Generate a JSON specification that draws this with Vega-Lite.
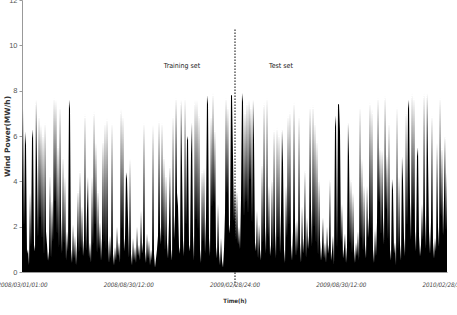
{
  "$schema": "https://vega.github.io/schema/vega-lite/v6.json",
  "autosize": {"type": "none"},
  "padding": {"left": 22, "top": 0, "right": 10, "bottom": 43},
  "width": 425,
  "height": 272,
  "background": "white",
  "config": {"view": {"stroke": null}, "font": "DejaVu Sans Condensed, Liberation Sans, sans-serif"},
  "datasets": {
    "power": [
{"t":0,"p":3.5},{"t":1,"p":7.2},{"t":2,"p":2.0},{"t":3,"p":6.2},{"t":4,"p":5.6},{"t":5,"p":0.8},{"t":6,"p":1.0},{"t":7,"p":0.3},{"t":8,"p":3.5},{"t":9,"p":1.1},
{"t":10,"p":5.9},{"t":11,"p":6.3},{"t":12,"p":1.2},{"t":13,"p":0.9},{"t":14,"p":7.6},{"t":15,"p":4.8},{"t":16,"p":1.5},{"t":17,"p":6.9},{"t":18,"p":2.3},{"t":19,"p":6.5},
{"t":20,"p":1.4},{"t":21,"p":6.1},{"t":22,"p":0.7},{"t":23,"p":6.6},{"t":24,"p":1.8},{"t":25,"p":1.2},{"t":26,"p":0.5},{"t":27,"p":0.9},{"t":28,"p":4.3},{"t":29,"p":0.6},
{"t":30,"p":3.2},{"t":31,"p":1.3},{"t":32,"p":7.7},{"t":33,"p":3.0},{"t":34,"p":7.6},{"t":35,"p":1.6},{"t":36,"p":5.6},{"t":37,"p":1.0},{"t":38,"p":7.3},{"t":39,"p":2.4},
{"t":40,"p":0.8},{"t":41,"p":5.1},{"t":42,"p":1.2},{"t":43,"p":4.2},{"t":44,"p":0.5},{"t":45,"p":1.8},{"t":46,"p":0.9},{"t":47,"p":7.6},{"t":48,"p":7.2},{"t":49,"p":1.0},
{"t":50,"p":0.4},{"t":51,"p":2.1},{"t":52,"p":0.6},{"t":53,"p":1.6},{"t":54,"p":0.3},{"t":55,"p":1.2},{"t":56,"p":3.6},{"t":57,"p":0.8},{"t":58,"p":4.5},{"t":59,"p":1.0},
{"t":60,"p":2.9},{"t":61,"p":0.7},{"t":62,"p":1.4},{"t":63,"p":7.0},{"t":64,"p":0.9},{"t":65,"p":2.7},{"t":66,"p":4.2},{"t":67,"p":0.6},{"t":68,"p":1.3},{"t":69,"p":0.4},
{"t":70,"p":4.2},{"t":71,"p":1.1},{"t":72,"p":7.1},{"t":73,"p":2.0},{"t":74,"p":5.7},{"t":75,"p":0.8},{"t":76,"p":3.6},{"t":77,"p":1.0},{"t":78,"p":2.2},{"t":79,"p":0.5},
{"t":80,"p":1.5},{"t":81,"p":5.8},{"t":82,"p":1.2},{"t":83,"p":6.6},{"t":84,"p":0.9},{"t":85,"p":6.8},{"t":86,"p":1.4},{"t":87,"p":0.4},{"t":88,"p":1.6},{"t":89,"p":0.6},
{"t":90,"p":6.6},{"t":91,"p":0.8},{"t":92,"p":0.3},{"t":93,"p":1.1},{"t":94,"p":0.5},{"t":95,"p":2.0},{"t":96,"p":0.7},{"t":97,"p":1.3},{"t":98,"p":0.4},{"t":99,"p":7.2},
{"t":100,"p":1.8},{"t":101,"p":6.9},{"t":102,"p":0.9},{"t":103,"p":1.5},{"t":104,"p":4.4},{"t":105,"p":4.1},{"t":106,"p":2.3},{"t":107,"p":0.6},{"t":108,"p":5.0},{"t":109,"p":0.8},
{"t":110,"p":0.3},{"t":111,"p":1.5},{"t":112,"p":0.5},{"t":113,"p":1.1},{"t":114,"p":0.4},{"t":115,"p":2.0},{"t":116,"p":0.7},{"t":117,"p":1.2},{"t":118,"p":0.5},{"t":119,"p":2.7},
{"t":120,"p":0.8},{"t":121,"p":1.3},{"t":122,"p":6.6},{"t":123,"p":0.9},{"t":124,"p":0.4},{"t":125,"p":1.7},{"t":126,"p":0.6},{"t":127,"p":1.4},{"t":128,"p":0.3},{"t":129,"p":1.0},
{"t":130,"p":0.5},{"t":131,"p":6.5},{"t":132,"p":0.8},{"t":133,"p":0.2},{"t":134,"p":0.6},{"t":135,"p":1.0},{"t":136,"p":1.6},{"t":137,"p":6.7},{"t":138,"p":2.0},{"t":139,"p":1.2},
{"t":140,"p":6.6},{"t":141,"p":1.5},{"t":142,"p":5.1},{"t":143,"p":0.9},{"t":144,"p":4.3},{"t":145,"p":1.3},{"t":146,"p":0.6},{"t":147,"p":2.2},{"t":148,"p":4.7},{"t":149,"p":1.0},
{"t":150,"p":0.5},{"t":151,"p":6.9},{"t":152,"p":1.4},{"t":153,"p":2.5},{"t":154,"p":7.7},{"t":155,"p":3.5},{"t":156,"p":2.9},{"t":157,"p":1.1},{"t":158,"p":0.8},{"t":159,"p":7.6},
{"t":160,"p":4.6},{"t":161,"p":1.4},{"t":162,"p":0.7},{"t":163,"p":7.7},{"t":164,"p":2.0},{"t":165,"p":5.8},{"t":166,"p":6.0},{"t":167,"p":1.2},{"t":168,"p":0.9},{"t":169,"p":5.2},
{"t":170,"p":6.6},{"t":171,"p":1.6},{"t":172,"p":0.5},{"t":173,"p":7.6},{"t":174,"p":2.2},{"t":175,"p":7.6},{"t":176,"p":1.8},{"t":177,"p":7.0},{"t":178,"p":1.0},{"t":179,"p":0.4},
{"t":180,"p":4.5},{"t":181,"p":1.3},{"t":182,"p":4.6},{"t":183,"p":0.8},{"t":184,"p":2.4},{"t":185,"p":7.8},{"t":186,"p":7.4},{"t":187,"p":1.5},{"t":188,"p":0.7},{"t":189,"p":6.9},
{"t":190,"p":2.8},{"t":191,"p":7.9},{"t":192,"p":3.0},{"t":193,"p":6.3},{"t":194,"p":1.1},{"t":195,"p":0.6},{"t":196,"p":3.0},{"t":197,"p":0.9},{"t":198,"p":0.3},{"t":199,"p":1.5},
{"t":200,"p":0.5},{"t":201,"p":0.2},{"t":202,"p":1.0},{"t":203,"p":2.6},{"t":204,"p":7.7},{"t":205,"p":3.4},{"t":206,"p":7.3},{"t":207,"p":1.7},{"t":208,"p":2.1},{"t":209,"p":7.8},
{"t":210,"p":7.8},{"t":211,"p":5.1},{"t":212,"p":2.2},{"t":213,"p":3.8},{"t":214,"p":1.4},{"t":215,"p":3.6},{"t":216,"p":1.2},{"t":217,"p":2.0},{"t":218,"p":1.0},{"t":219,"p":3.2},
{"t":220,"p":7.9},{"t":221,"p":7.5},{"t":222,"p":2.4},{"t":223,"p":7.1},{"t":224,"p":3.0},{"t":225,"p":7.5},{"t":226,"p":2.5},{"t":227,"p":7.6},{"t":228,"p":4.0},{"t":229,"p":7.3},
{"t":230,"p":2.1},{"t":231,"p":7.6},{"t":232,"p":5.8},{"t":233,"p":1.3},{"t":234,"p":0.9},{"t":235,"p":2.7},{"t":236,"p":0.6},{"t":237,"p":2.1},{"t":238,"p":1.0},{"t":239,"p":0.5},
{"t":240,"p":4.8},{"t":241,"p":1.2},{"t":242,"p":7.5},{"t":243,"p":2.0},{"t":244,"p":0.8},{"t":245,"p":7.7},{"t":246,"p":1.5},{"t":247,"p":3.8},{"t":248,"p":0.7},{"t":249,"p":1.2},
{"t":250,"p":4.1},{"t":251,"p":0.9},{"t":252,"p":6.3},{"t":253,"p":1.8},{"t":254,"p":0.6},{"t":255,"p":6.4},{"t":256,"p":1.4},{"t":257,"p":6.1},{"t":258,"p":0.8},{"t":259,"p":2.6},
{"t":260,"p":6.3},{"t":261,"p":4.8},{"t":262,"p":1.0},{"t":263,"p":0.4},{"t":264,"p":3.8},{"t":265,"p":1.5},{"t":266,"p":6.9},{"t":267,"p":2.0},{"t":268,"p":7.1},{"t":269,"p":1.2},
{"t":270,"p":0.5},{"t":271,"p":1.8},{"t":272,"p":7.5},{"t":273,"p":2.2},{"t":274,"p":0.7},{"t":275,"p":2.3},{"t":276,"p":0.9},{"t":277,"p":6.9},{"t":278,"p":1.3},{"t":279,"p":0.4},
{"t":280,"p":2.9},{"t":281,"p":0.8},{"t":282,"p":1.5},{"t":283,"p":4.5},{"t":284,"p":0.6},{"t":285,"p":2.4},{"t":286,"p":1.0},{"t":287,"p":1.6},{"t":288,"p":7.3},{"t":289,"p":2.8},
{"t":290,"p":1.1},{"t":291,"p":7.4},{"t":292,"p":1.9},{"t":293,"p":6.6},{"t":294,"p":1.2},{"t":295,"p":5.8},{"t":296,"p":0.7},{"t":297,"p":4.1},{"t":298,"p":1.4},{"t":299,"p":0.5},
{"t":300,"p":1.1},{"t":301,"p":2.4},{"t":302,"p":0.6},{"t":303,"p":1.3},{"t":304,"p":0.4},{"t":305,"p":2.0},{"t":306,"p":0.8},{"t":307,"p":1.2},{"t":308,"p":4.1},{"t":309,"p":0.5},
{"t":310,"p":0.9},{"t":311,"p":1.6},{"t":312,"p":0.3},{"t":313,"p":6.4},{"t":314,"p":6.9},{"t":315,"p":1.0},{"t":316,"p":7.4},{"t":317,"p":7.4},{"t":318,"p":6.2},{"t":319,"p":1.3},
{"t":320,"p":3.0},{"t":321,"p":0.6},{"t":322,"p":1.0},{"t":323,"p":1.7},{"t":324,"p":0.4},{"t":325,"p":1.1},{"t":326,"p":6.6},{"t":327,"p":5.1},{"t":328,"p":1.2},{"t":329,"p":4.1},
{"t":330,"p":0.8},{"t":331,"p":3.5},{"t":332,"p":1.0},{"t":333,"p":0.4},{"t":334,"p":1.3},{"t":335,"p":0.7},{"t":336,"p":1.8},{"t":337,"p":0.5},{"t":338,"p":7.3},{"t":339,"p":1.4},
{"t":340,"p":5.0},{"t":341,"p":0.9},{"t":342,"p":3.8},{"t":343,"p":1.2},{"t":344,"p":0.6},{"t":345,"p":3.8},{"t":346,"p":1.5},{"t":347,"p":2.4},{"t":348,"p":7.5},{"t":349,"p":1.8},
{"t":350,"p":7.2},{"t":351,"p":1.0},{"t":352,"p":0.4},{"t":353,"p":1.9},{"t":354,"p":0.7},{"t":355,"p":2.2},{"t":356,"p":7.7},{"t":357,"p":3.0},{"t":358,"p":5.5},{"t":359,"p":1.6},
{"t":360,"p":5.4},{"t":361,"p":2.4},{"t":362,"p":1.2},{"t":363,"p":7.8},{"t":364,"p":2.7},{"t":365,"p":5.2},{"t":366,"p":1.4},{"t":367,"p":6.6},{"t":368,"p":1.0},{"t":369,"p":0.5},
{"t":370,"p":4.1},{"t":371,"p":3.6},{"t":372,"p":0.8},{"t":373,"p":1.3},{"t":374,"p":0.3},{"t":375,"p":7.3},{"t":376,"p":0.9},{"t":377,"p":4.2},{"t":378,"p":1.2},{"t":379,"p":0.5},
{"t":380,"p":5.1},{"t":381,"p":4.0},{"t":382,"p":1.5},{"t":383,"p":0.7},{"t":384,"p":7.1},{"t":385,"p":2.0},{"t":386,"p":7.2},{"t":387,"p":7.6},{"t":388,"p":3.1},{"t":389,"p":1.4},
{"t":390,"p":7.9},{"t":391,"p":2.6},{"t":392,"p":7.7},{"t":393,"p":1.8},{"t":394,"p":0.9},{"t":395,"p":5.1},{"t":396,"p":5.5},{"t":397,"p":1.6},{"t":398,"p":0.7},{"t":399,"p":1.2},
{"t":400,"p":3.0},{"t":401,"p":1.4},{"t":402,"p":7.9},{"t":403,"p":2.5},{"t":404,"p":1.0},{"t":405,"p":7.9},{"t":406,"p":5.0},{"t":407,"p":1.8},{"t":408,"p":0.8},{"t":409,"p":2.2},
{"t":410,"p":6.9},{"t":411,"p":1.3},{"t":412,"p":0.6},{"t":413,"p":1.5},{"t":414,"p":0.9},{"t":415,"p":5.7},{"t":416,"p":2.0},{"t":417,"p":1.1},{"t":418,"p":7.7},{"t":419,"p":2.4},
{"t":420,"p":5.5},{"t":421,"p":1.6},{"t":422,"p":3.2},{"t":423,"p":6.0},{"t":424,"p":1.8},{"t":425,"p":4.4}
    ],
    "split": [{"t": 213, "top": 10.7, "bottom": -0.6}],
    "labels": [
      {"t": 160, "p": 9.1, "label": "Training set"},
      {"t": 259, "p": 9.1, "label": "Test set"}
    ]
  },
  "layer": [
    {
      "data": {"name": "power"},
      "mark": {"type": "area", "color": "black", "interpolate": "linear"},
      "encoding": {
        "x": {
          "field": "t", "type": "quantitative",
          "scale": {"domain": [0, 425], "nice": false, "zero": false},
          "axis": {
            "title": "Time(h)",
            "titleFont": "DejaVu Sans Condensed, Liberation Sans, sans-serif",
            "titleFontSize": 6, "titleFontWeight": "bold", "titleColor": "#333",
            "titlePadding": 10,
            "values": [0, 106.25, 212.5, 318.75, 425],
            "labelExpr": "datum.value < 50 ? '2008/03/01/01:00' : datum.value < 150 ? '2008/08/30/12:00' : datum.value < 260 ? '2009/02/28/24:00' : datum.value < 380 ? '2009/08/30/12:00' : '2010/02/28/24:00'",
            "labelFont": "DejaVu Sans Condensed, Liberation Sans, sans-serif", "labelFontStyle": "italic",
            "labelFontSize": 6.2, "labelColor": "#444", "labelPadding": 9,
            "labelOverlap": false, "labelBound": false, "labelFlush": false,
            "ticks": false, "domainColor": "#999", "grid": false
          }
        },
        "y": {
          "field": "p", "type": "quantitative",
          "scale": {"domain": [0, 12], "nice": false},
          "axis": {
            "title": "Wind Power(MW/h)",
            "titleFont": "DejaVu Sans, Liberation Sans, sans-serif",
            "titleFontSize": 7.5, "titleFontWeight": "bold", "titleColor": "#333",
            "titleX": -15, "titleY": 136, "titleAnchor": "middle", "titleAngle": -90, "titleBaseline": "middle",
            "values": [0, 2, 4, 6, 8, 10, 12],
            "labelFont": "Liberation Sans", "labelFontSize": 7.5, "labelColor": "#555",
            "labelPadding": 2, "tickSize": 3, "tickColor": "#999",
            "domainColor": "#999", "grid": false, "labelBound": false, "labelFlush": false
          }
        }
      }
    },
    {
      "data": {"name": "split"},
      "mark": {"type": "rule", "color": "black", "strokeWidth": 1, "strokeDash": [1.5, 1.5], "clip": false},
      "encoding": {
        "x": {"field": "t", "type": "quantitative"},
        "y": {"field": "top", "type": "quantitative"},
        "y2": {"field": "bottom"}
      }
    },
    {
      "data": {"name": "labels"},
      "mark": {"type": "text", "font": "DejaVu Sans Condensed, Liberation Sans, sans-serif", "fontSize": 7, "color": "#222", "align": "center", "baseline": "middle"},
      "encoding": {
        "x": {"field": "t", "type": "quantitative"},
        "y": {"field": "p", "type": "quantitative"},
        "text": {"field": "label"}
      }
    }
  ]
}
